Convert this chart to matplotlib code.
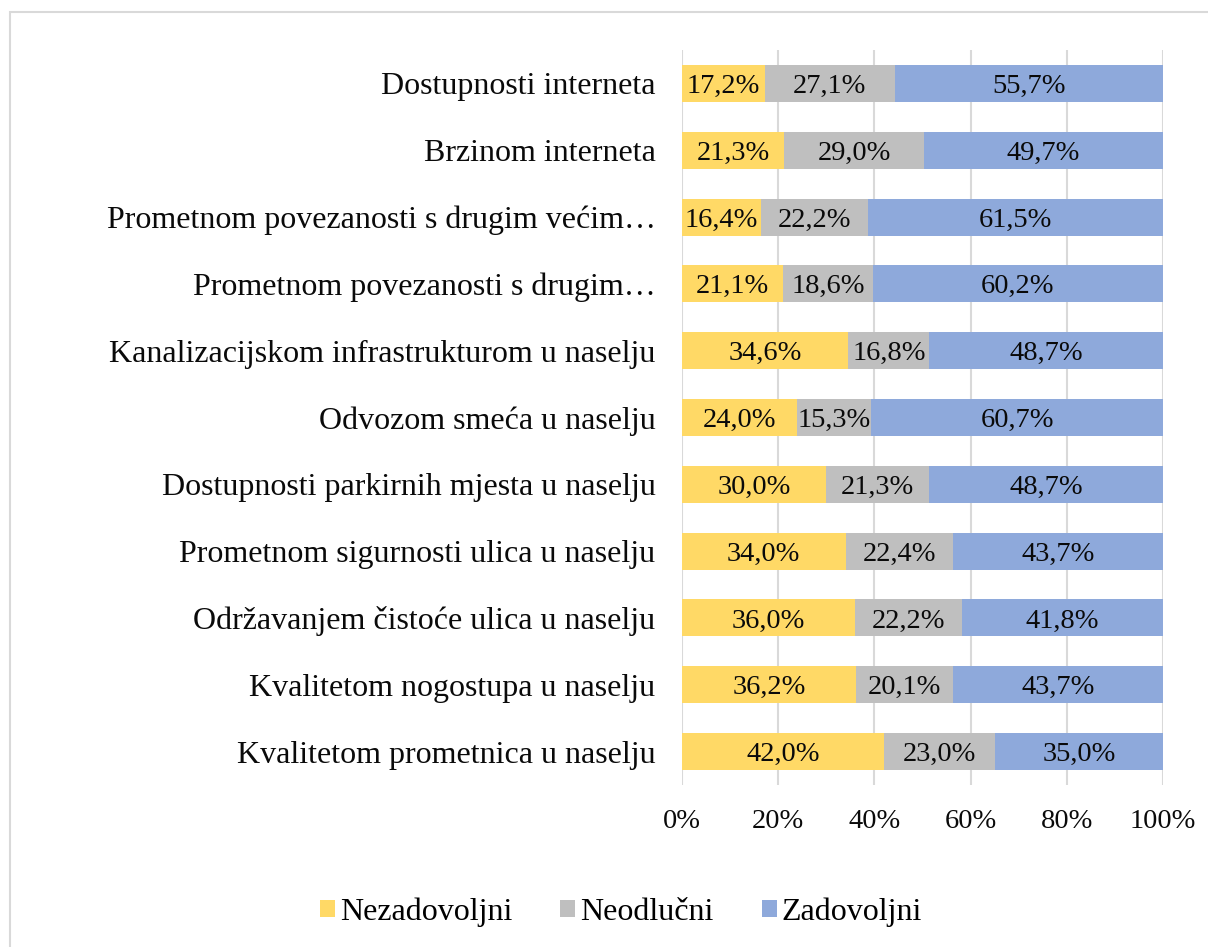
import matplotlib
matplotlib.use("Agg")
import matplotlib.pyplot as plt
from matplotlib.patches import Rectangle

plt.rcParams.update({"font.family": ["Liberation Serif", "DejaVu Serif"]})

# categories listed top to bottom
categories = [
    "Dostupnosti interneta",
    "Brzinom interneta",
    "Prometnom povezanosti s drugim većim…",
    "Prometnom povezanosti s drugim…",
    "Kanalizacijskom infrastrukturom u naselju",
    "Odvozom smeća u naselju",
    "Dostupnosti parkirnih mjesta u naselju",
    "Prometnom sigurnosti ulica u naselju",
    "Održavanjem čistoće ulica u naselju",
    "Kvalitetom nogostupa u naselju",
    "Kvalitetom prometnica u naselju",
]
nezadovoljni = [17.2, 21.3, 16.4, 21.1, 34.6, 24.0, 30.0, 34.0, 36.0, 36.2, 42.0]
neodlucni = [27.1, 29.0, 22.2, 18.6, 16.8, 15.3, 21.3, 22.4, 22.2, 20.1, 23.0]
zadovoljni = [55.7, 49.7, 61.5, 60.2, 48.7, 60.7, 48.7, 43.7, 41.8, 43.7, 35.0]
series_names = ["Nezadovoljni", "Neodlučni", "Zadovoljni"]
colors = ["#FFD966", "#BFBFBF", "#8EA9DB"]
xticks = [0, 20, 40, 60, 80, 100]

fig = plt.figure(figsize=(12.08, 9.47), dpi=100)
ax = fig.add_axes([682 / 1208, 1 - 785 / 947, 481 / 1208, 735 / 947])

# outer chart frame
fig.patches.append(Rectangle((10 / 1208, -0.1), 1.2, 1.1 - 12 / 947,
                             transform=fig.transFigure, fill=False,
                             edgecolor="#D9D9D9", linewidth=1.5))

y = list(range(len(categories)))
left = [0.0] * len(categories)
for vals, name, col in zip([nezadovoljni, neodlucni, zadovoljni], series_names, colors):
    bars = ax.barh(y, vals, left=left, height=0.555, color=col, label=name, zorder=2)
    for bar, v in zip(bars, vals):
        ax.text(bar.get_x() + bar.get_width() / 2, bar.get_y() + bar.get_height() / 2,
                f"{v:.1f}%".replace(".", ","), ha="center", va="center_baseline",
                fontsize=20.5, color="#0a0a0a", zorder=3)
    left = [a + b for a, b in zip(left, vals)]

ax.set_xlim(0, 100)
ax.set_ylim(len(categories) - 0.5, -0.5)
ax.set_yticks(y)
ax.set_yticklabels(categories, fontsize=23)
ax.set_xticks(xticks)
ax.set_xticklabels([f"{t}%" for t in xticks], fontsize=20.5)
ax.tick_params(axis="both", length=0, colors="#0a0a0a")
ax.tick_params(axis="y", pad=19)
ax.tick_params(axis="x", pad=17)
ax.grid(axis="x", color="#D9D9D9", linewidth=1.5, zorder=0)
for s in ax.spines.values():
    s.set_visible(False)

fig.legend(loc="center", bbox_to_anchor=(621 / 1208, 1 - 912 / 947), ncol=3,
           frameon=False, fontsize=23, handlelength=0.47, handleheight=0.47,
           handletextpad=0.15, columnspacing=1.5)

fig.savefig("out.png", dpi=100)
